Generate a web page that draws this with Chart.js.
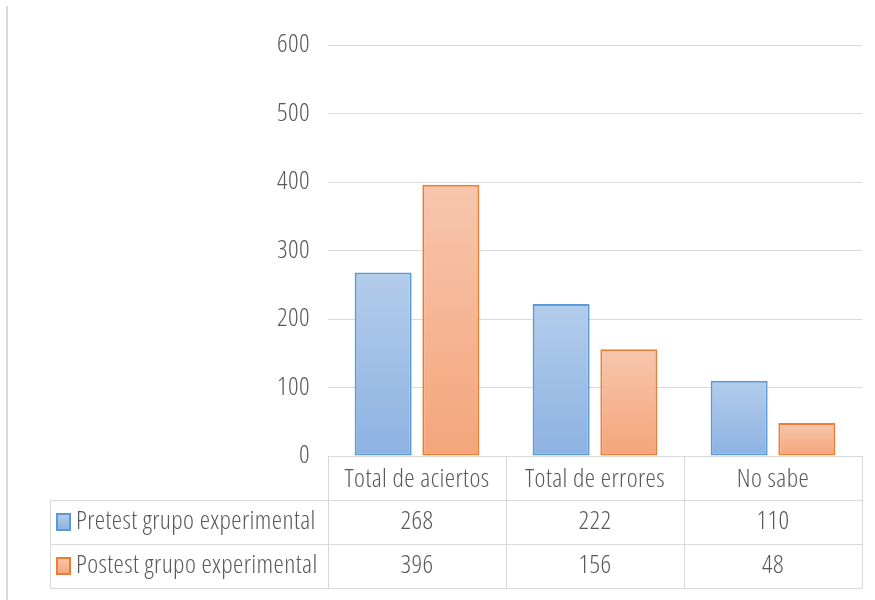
<!DOCTYPE html>
<html>
<head>
<meta charset="utf-8">
<script src="https://cdn.jsdelivr.net/npm/chart.js@4/dist/chart.umd.min.js"></script>
<style>
  html, body { margin: 0; padding: 0; background: #ffffff; }
  canvas { display: block; }
</style>
</head>
<body>
<canvas id="chart" width="875" height="600"></canvas>
<script>
// Data
const categories = ['Total de aciertos', 'Total de errores', 'No sabe'];
const seriesNames = ['Pretest grupo experimental', 'Postest grupo experimental'];
const pretest = [268, 222, 110];
const postest = [396, 156, 48];
const yTicks = [0, 100, 200, 300, 400, 500, 600];

// Styling
const FAMILY = "'Open Sans', 'DejaVu Sans Condensed', sans-serif";
const WEIGHT = '300 condensed';
const SIZE = 26;
const SPACING = '0.4px';
const TEXT = '#595959';
const GRID = '#d9d9d9';
const ROW_H = 44;
const TABLE_LEFT = 50;

const palette = [
  { top: '#b3cceb', bottom: '#8db2e2', border: '#5b9bd5' },
  { top: '#f7c6ad', bottom: '#f4a57b', border: '#ed7d31' }
];

function barFill(p) {
  return (ctx) => {
    const chart = ctx.chart;
    if (!chart.chartArea || ctx.type !== 'data') return p.bottom;
    const y = chart.scales.y;
    const y0 = y.getPixelForValue(0);
    const y1 = y.getPixelForValue(ctx.raw);
    const g = chart.ctx.createLinearGradient(0, y1, 0, y0);
    g.addColorStop(0, p.top);
    g.addColorStop(1, p.bottom);
    return g;
  };
}

// Slightly looser letter spacing for all text on the canvas
const textSpacing = {
  id: 'textSpacing',
  beforeLayout(chart) { chart.ctx.letterSpacing = SPACING; },
  beforeDraw(chart) { chart.ctx.letterSpacing = SPACING; }
};

// Data table under the category axis, plus the thin frame line on the left
const dataTable = {
  id: 'dataTable',
  afterDraw(chart) {
    const { ctx, chartArea, scales } = chart;
    const x = scales.x;
    const headTop = chartArea.bottom;
    const rowsTop = x.bottom;
    const rowsBottom = rowsTop + ROW_H * seriesNames.length;
    const half = (x.getPixelForValue(1) - x.getPixelForValue(0)) / 2;
    const edges = categories.map((c, i) => x.getPixelForValue(i) - half);
    edges.push(x.getPixelForValue(categories.length - 1) + half);

    ctx.save();
    // frame line
    ctx.strokeStyle = GRID;
    ctx.lineWidth = 2;
    ctx.beginPath();
    ctx.moveTo(7, 6);
    ctx.lineTo(7, 600);
    ctx.stroke();

    ctx.strokeStyle = GRID;
    ctx.lineWidth = 1;
    ctx.beginPath();
    // horizontal rules
    for (let r = 0; r <= seriesNames.length; r++) {
      const yy = Math.round(rowsTop + r * ROW_H) + 0.5;
      ctx.moveTo(TABLE_LEFT, yy);
      ctx.lineTo(edges[edges.length - 1], yy);
    }
    // vertical rules
    edges.forEach((ex) => {
      const xx = Math.round(ex) + 0.5;
      ctx.moveTo(xx, headTop);
      ctx.lineTo(xx, rowsBottom);
    });
    const lx = TABLE_LEFT + 0.5;
    ctx.moveTo(lx, rowsTop);
    ctx.lineTo(lx, rowsBottom);
    ctx.stroke();

    // rows: legend key, series name, values
    const rows = [pretest, postest];
    ctx.font = WEIGHT + ' ' + SIZE + 'px ' + FAMILY;
    ctx.letterSpacing = SPACING;
    ctx.textBaseline = 'middle';
    rows.forEach((vals, r) => {
      const cy = rowsTop + r * ROW_H + ROW_H / 2;
      const p = palette[r];
      const kx = 57, ky = cy - 8, kw = 13, kh = 16;
      const g = ctx.createLinearGradient(0, ky, 0, ky + kh);
      g.addColorStop(0, p.top);
      g.addColorStop(1, p.bottom);
      ctx.fillStyle = g;
      ctx.fillRect(kx, ky, kw, kh);
      ctx.strokeStyle = p.border;
      ctx.lineWidth = 2;
      ctx.strokeRect(kx, ky, kw, kh);

      ctx.fillStyle = TEXT;
      ctx.textAlign = 'left';
      ctx.fillText(seriesNames[r], 76, cy);
      ctx.textAlign = 'center';
      vals.forEach((v, i) => {
        ctx.fillText(String(v), x.getPixelForValue(i), cy);
      });
    });
    ctx.restore();
  }
};

new Chart(document.getElementById('chart'), {
  type: 'bar',
  data: {
    labels: categories,
    datasets: [pretest, postest].map((vals, i) => ({
      label: seriesNames[i],
      data: vals,
      backgroundColor: barFill(palette[i]),
      borderColor: palette[i].border,
      borderWidth: 2,
      borderSkipped: false,
      barPercentage: 0.842,
      categoryPercentage: 0.761
    }))
  },
  options: {
    responsive: false,
    devicePixelRatio: 1,
    animation: false,
    layout: { padding: { top: 45, right: 13, bottom: 100, left: 0 } },
    plugins: {
      legend: { display: false },
      tooltip: { enabled: false }
    },
    scales: {
      x: {
        grid: { display: false, drawTicks: false },
        border: { display: false },
        ticks: {
          color: TEXT,
          font: { family: FAMILY, size: SIZE, weight: WEIGHT },
          padding: 8,
          autoSkip: false,
          maxRotation: 0
        },
        afterFit(scale) { scale.height = ROW_H; }
      },
      y: {
        min: 0,
        max: 600,
        grid: { color: GRID, drawTicks: false },
        border: { display: false },
        ticks: {
          color: TEXT,
          font: { family: FAMILY, size: SIZE, weight: WEIGHT },
          padding: 18
        },
        afterBuildTicks(scale) { scale.ticks = yTicks.map(v => ({ value: v })); },
        afterFit(scale) { scale.width = 328; }
      }
    }
  },
  plugins: [textSpacing, dataTable]
});
</script>
</body>
</html>
